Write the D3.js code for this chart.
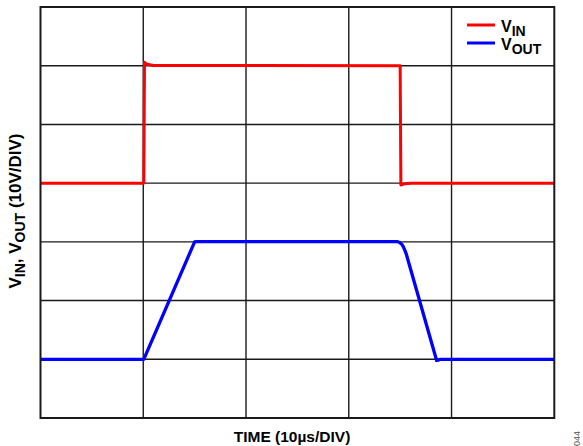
<!DOCTYPE html>
<html><head><meta charset="utf-8">
<script src="https://cdn.jsdelivr.net/npm/d3@7"></script>
<style>body{margin:0;background:#fff}svg{display:block}text{font-family:"Liberation Sans",Arial,sans-serif}</style>
</head><body>
<svg id="c" width="583" height="446"></svg>
<script>
// time in µs, voltage in display volts (10 V/div, traces offset)
const xTicks = [0,10,20,30,40,50];
const yTicks = [0,10,20,30,40,50,60,70];
const vinT = [0, 10.05, 10.12, 10.2, 10.5, 11, 35.0, 35.07, 35.12, 35.3, 36, 50];
const vinV = [40, 40, 60.6, 60.4, 60.2, 60.05, 60, 39.7, 39.7, 39.85, 40, 40];
const voutT = [0, 10.05, 15.0, 15.2, 34.7, 34.95, 35.15, 35.3, 35.45, 35.6, 38.55, 38.7, 38.9, 50];
const voutV = [10, 10, 30, 30.05, 30.05, 29.9, 29.6, 29.2, 28.6, 27.9, 9.8, 9.85, 10, 10];
const legendNames = [["V","IN"],["V","OUT"]];
const colors = ["#ff0000","#0000ff"];

const svg = d3.select("#c");
const L=40.5, R=554.3, T=7, B=418;
const x = d3.scaleLinear().domain([0,50]).range([L,R]);
const y = d3.scaleLinear().domain([0,70]).range([B,T]);

const g = svg.append("g");
g.selectAll(".vx").data(xTicks.slice(1,-1)).enter().append("line")
  .attr("x1",d=>x(d)).attr("x2",d=>x(d)).attr("y1",T).attr("y2",B)
  .attr("stroke","#1a1a1a").attr("stroke-width",1.4);
g.selectAll(".hy").data(yTicks.slice(1,-1)).enter().append("line")
  .attr("y1",d=>y(d)).attr("y2",d=>y(d)).attr("x1",L).attr("x2",R)
  .attr("stroke","#1a1a1a").attr("stroke-width",1.4);

const line = d3.line().x(d=>x(d[0])).y(d=>y(d[1]));
const vin = vinT.map((t,i)=>[t,vinV[i]]);
const vout = voutT.map((t,i)=>[t,voutV[i]]);
g.append("path").datum(vout).attr("d",line).attr("fill","none")
  .attr("stroke",colors[1]).attr("stroke-width",3.3).attr("stroke-linejoin","round");
g.append("path").datum(vin).attr("d",line).attr("fill","none")
  .attr("stroke",colors[0]).attr("stroke-width",3).attr("stroke-linejoin","round");

g.append("rect").attr("x",L).attr("y",T).attr("width",R-L).attr("height",B-T)
  .attr("fill","none").attr("stroke","#1a1a1a").attr("stroke-width",2);

// legend
legendNames.forEach((n,i)=>{
  const ly = 25 + i*18;
  svg.append("line").attr("x1",467).attr("x2",495).attr("y1",ly).attr("y2",ly)
    .attr("stroke",colors[i]).attr("stroke-width",3);
  const t = svg.append("text").attr("x",501).attr("y",ly+7).attr("font-weight","bold").attr("font-size",16);
  t.append("tspan").text(n[0]);
  t.append("tspan").attr("font-size",14).attr("dy",4).text(n[1]);
});

// x label
svg.append("text").attr("x",292).attr("y",442).attr("text-anchor","middle")
  .attr("font-weight","bold").attr("font-size",15.5).text("TIME (10µs/DIV)");

// y label
const yl = svg.append("text").attr("transform",`translate(21,211) rotate(-90)`)
  .attr("text-anchor","middle").attr("font-weight","bold").attr("font-size",17);
yl.append("tspan").text("V");
yl.append("tspan").attr("font-size",14).attr("dy",4).text("IN");
yl.append("tspan").attr("dy",-4).text(", V");
yl.append("tspan").attr("font-size",14).attr("dy",4).text("OUT");
yl.append("tspan").attr("dy",-4).text(" (10V/DIV)");

svg.append("text").attr("transform","translate(580,446) rotate(-90)")
  .attr("font-size",9).attr("fill","#555").text("044");
</script>
</body></html>
